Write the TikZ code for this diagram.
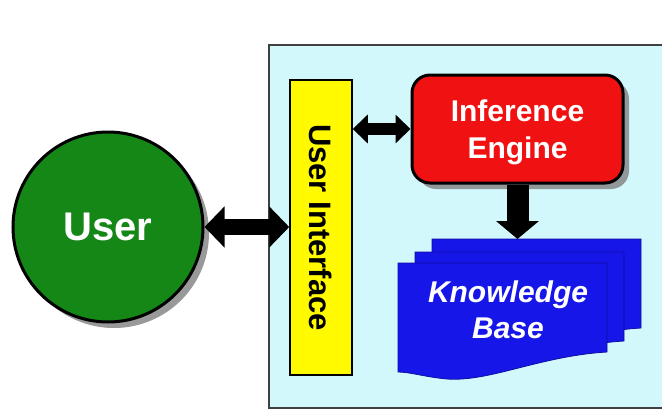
\documentclass[tikz,border=0pt]{standalone}
\usepackage{fontspec}
\setmainfont{Liberation Sans}
\usetikzlibrary{shadows,arrows.meta}
\definecolor{bgcyan}{RGB}{210,248,252}
\definecolor{usergreen}{RGB}{20,135,22}
\definecolor{iered}{RGB}{240,18,18}
\definecolor{kbblue}{RGB}{22,22,232}
\definecolor{uiyellow}{RGB}{255,250,0}
\tikzset{
  shad/.style={drop shadow={shadow xshift=6pt, shadow yshift=-6pt, fill=black!50, opacity=0.8}},
  bigarrow/.style={line width=16pt, {Triangle[width=40pt,length=20pt]}-{Triangle[width=40pt,length=20pt]}},
  midarrow/.style={line width=12pt, {Triangle[width=28pt,length=15pt]}-{Triangle[width=28pt,length=15pt]}},
  downarrow/.style={line width=22pt, -{Triangle[width=42pt,length=18pt]}},
  page/.style={fill=kbblue, draw=kbblue!70!black, line width=0.8pt},
  bigfont/.style={font=\bfseries\fontsize{30}{37}\selectfont},
}
\begin{document}
\begin{tikzpicture}[x=1pt,y=-1pt]
\useasboundingbox (0,0) rectangle (662,410);
\clip (0,0) rectangle (662,410);
\fill[white] (0,0) rectangle (662,410);
% system box
\draw[fill=bgcyan, draw=black!75, line width=2pt] (269,45) rectangle (690,408);
% user
\node[circle, minimum size=190pt, fill=usergreen, draw=black, line width=3pt, shad,
      text=white, font=\bfseries\fontsize{40}{42}\selectfont] (user) at (108,227) {User};
% user interface
\node[rectangle, minimum width=62pt, minimum height=295pt, fill=uiyellow, draw=black, line width=1.5pt] (ui) at (321,227.5) {};
\node[rotate=-90, font=\bfseries\fontsize{31}{37}\selectfont, text=black] (uitext) at (ui.center) {User Interface};
% inference engine
\node[rectangle, rounded corners=18pt, minimum width=211pt, minimum height=108pt, fill=iered, draw=black, line width=3pt, shad] (ie) at (517.5,129) {};
\node[text=white, align=center, bigfont] (ietext) at (517.5,132) {Inference\\Engine};
% knowledge base pages
\path[page] (432,239) -- (641,239) -- (641,328) .. controls (574,332) and (524,358) .. (481,355) .. controls (459,353) and (444,348) .. (432,348) -- cycle;
\path[page] (415,252) -- (624,252) -- (624,341) .. controls (557,345) and (507,371) .. (464,368) .. controls (442,366) and (427,361) .. (415,361) -- cycle;
\path[page] (398,263) -- (607,263) -- (607,352) .. controls (540,356) and (490,382) .. (447,379) .. controls (425,377) and (410,372) .. (398,372) -- cycle;
\coordinate (kbtop) at (517.5,239);
\node[text=white, align=center, font=\bfseries\itshape\fontsize{30}{36}\selectfont] (kbtext) at (508,310) {Knowledge\\Base};
% connectors
\draw[bigarrow] (user.east) -- (user.east -| ui.west);
\draw[midarrow] (ie.west -| ui.east) -- (ie.west);
\draw[downarrow] (ie.south) -- (kbtop);
\end{tikzpicture}
\end{document}
